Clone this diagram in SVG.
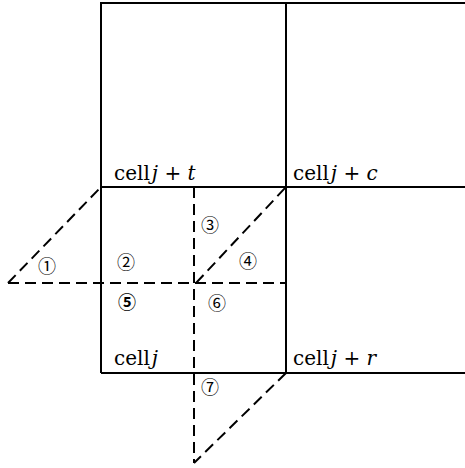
<svg xmlns="http://www.w3.org/2000/svg" width="465" height="468" viewBox="0 0 465 468">
<style>
.s{stroke:#000;stroke-width:2;fill:none}
.d{stroke:#000;stroke-width:2;fill:none;stroke-dasharray:11,6}
.l{font-family:"DejaVu Serif","Liberation Serif",serif;font-size:20px;fill:#000}
.n{font-family:"Noto Sans CJK SC","DejaVu Sans",sans-serif;font-size:18px;fill:#000}
</style>
<rect width="465" height="468" fill="#fff"/>
<g id="connectors">
<path class="s" d="M101,373V3H465M286,3V373M101,187H465M101,373H465"/>
<path class="d" d="M194,187V463"/>
<path class="d" d="M8,283H286"/>
<path class="d" d="M8,283L101,187"/>
<path class="d" d="M196,283L286,187"/>
<path class="d" d="M286,373L194,463"/>
</g>
<g id="cell-jt"><text class="l" x="114" y="180">cell<tspan font-style="italic" dx="2">j</tspan> + <tspan font-style="italic">t</tspan></text></g>
<g id="cell-jc"><text class="l" x="293" y="180">cell<tspan font-style="italic" dx="2">j</tspan> + <tspan font-style="italic">c</tspan></text></g>
<g id="cell-j"><text class="l" x="114" y="365">cell<tspan font-style="italic" dx="2">j</tspan></text></g>
<g id="cell-jr"><text class="l" x="293" y="365">cell<tspan font-style="italic" dx="2">j</tspan> + <tspan font-style="italic">r</tspan></text></g>
<g id="n1"><text class="n" x="47" y="273" text-anchor="middle">①</text></g>
<g id="n2"><text class="n" x="126" y="269" text-anchor="middle">②</text></g>
<g id="n3"><text class="n" x="210" y="232" text-anchor="middle">③</text></g>
<g id="n4"><text class="n" x="248" y="268" text-anchor="middle">④</text></g>
<g id="n5"><text class="n" x="127" y="309" text-anchor="middle" font-weight="bold">⑤</text></g>
<g id="n6"><text class="n" x="217" y="310" text-anchor="middle">⑥</text></g>
<g id="n7"><text class="n" x="210" y="394" text-anchor="middle">⑦</text></g>
</svg>
